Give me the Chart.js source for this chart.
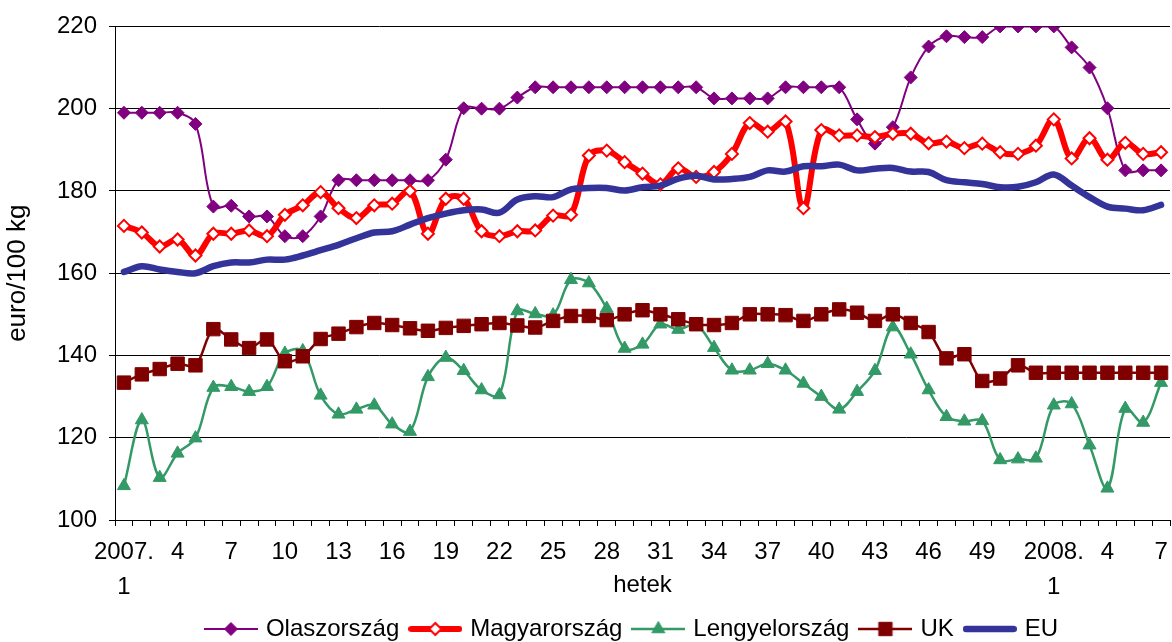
<!DOCTYPE html>
<html>
<head>
<meta charset="utf-8">
<script src="https://cdn.jsdelivr.net/npm/chart.js@4.4.1/dist/chart.umd.min.js"></script>
<style>
html,body{margin:0;padding:0;background:#fff;}
#wrap{width:1172px;height:642px;}
</style>
</head>
<body>
<div id="wrap"><canvas id="c" width="1172" height="642"></canvas></div>
<script>
const categories = [
  '2007. 1','2','3','4','5','6','7','8','9','10','11','12','13','14','15','16','17','18','19','20',
  '21','22','23','24','25','26','27','28','29','30','31','32','33','34','35','36','37','38','39','40',
  '41','42','43','44','45','46','47','48','49','50','51','52',
  '2008. 1','2','3','4','5','6','7'
];
const tickIndices = [0,3,6,9,12,15,18,21,24,27,30,33,36,39,42,45,48,52,55,58];

const olaszorszag = [199,199,199,199,196.3,176.2,176.4,173.8,173.8,169,169,173.8,182.6,182.6,182.6,182.6,182.6,182.6,187.6,200.1,
  200,200,202.7,205.2,205.2,205.2,205.2,205.2,205.2,205.2,205.2,205.2,205.2,202.5,202.5,202.5,202.5,205.2,205.2,205.2,
  205.2,197.4,191.5,195.5,207.6,215.1,217.6,217.4,217.4,220,220,220,220,214.9,210,200.1,185,185,185];
const magyarorszag = [171.5,169.9,166.5,168.2,164.3,169.6,169.6,170.4,169,174.2,176.5,179.7,175.8,173.4,176.5,176.9,180,169.6,178.1,178.1,
  170.2,169,170.2,170.4,174,174.2,188.6,189.8,187,184.2,181.6,185.5,183.4,184.6,189,196.5,194.4,196.9,175.8,194.8,
  193.5,193.5,193.1,193.9,193.9,191.6,192,190.4,191.5,189.4,189,191,197.4,187.9,192.8,187.6,191.7,189,189.4];
const lengyelorszag = [108.3,124.3,110.3,116.2,119.9,132.2,132.4,131.2,132.4,140.5,141.1,130.3,125.7,126.9,127.9,123.3,121.5,134.8,139.5,136.3,
  131.6,130.4,150.8,150.1,149.8,158.4,157.6,151.4,141.7,142.7,147.6,146.3,147.5,141.9,136.4,136.4,138,136.4,133.2,130,
  126.9,131.2,136.3,146.9,140.3,131.6,125.1,124,124.1,114.6,114.8,115,127.9,128.2,118.2,107.7,127.1,123.7,133.4];
const uk = [133.4,135.4,136.7,138,137.6,146.4,143.9,141.8,143.9,138.6,139.8,144,145.3,146.9,147.9,147.4,146.6,146,146.7,147.2,
  147.6,147.9,147.3,146.8,148.4,149.6,149.6,148.6,150,151,150,148.8,147.6,147.4,147.9,150,150,149.8,148.4,150,
  151.2,150.4,148.4,150,147.9,145.7,139.3,140.3,133.8,134.4,137.6,135.8,135.8,135.8,135.8,135.8,135.8,135.8,135.8];
const eu = [160.3,161.7,160.9,160.3,160,161.7,162.6,162.6,163.3,163.3,164.3,165.6,166.9,168.5,169.9,170.2,171.8,173.4,174.5,175.3,
  175.5,174.7,177.9,178.7,178.5,180.4,180.7,180.7,180.1,180.9,181.3,183,183.7,182.8,182.9,183.4,185,184.7,186,186,
  186.4,185,185.4,185.6,184.7,184.6,182.6,182.1,181.7,180.9,181,182.1,184,181.3,178.5,176.2,175.7,175.3,176.6];

const yTicks = {min: 100, max: 220, step: 20};

const FONT = "'Liberation Sans', Arial, sans-serif";
Chart.defaults.font.family = FONT;
Chart.defaults.font.size = 24;
Chart.defaults.color = '#000';

const datasets = [
  {label:'Olaszország', data: olaszorszag, borderColor:'#800080', backgroundColor:'#800080', borderWidth:2,
   pointStyle:'rectRot', pointRadius:6.5, pointBackgroundColor:'#800080', pointBorderColor:'#800080', pointBorderWidth:1, order:5},
  {label:'Magyarország', data: magyarorszag, borderColor:'#ff0000', backgroundColor:'#ff0000', borderWidth:6,
   borderJoinStyle:'round', pointStyle:'rectRot', pointRadius:6, pointBackgroundColor:'#ffffff', pointBorderColor:'#ff0000', pointBorderWidth:2, order:4},
  {label:'Lengyelország', data: lengyelorszag, borderColor:'#339966', backgroundColor:'#339966', borderWidth:2.5,
   pointStyle:'triangle', pointRadius:7.5, pointBackgroundColor:'#339966', pointBorderColor:'#339966', pointBorderWidth:1, order:3},
  {label:'UK', data: uk, borderColor:'#800000', backgroundColor:'#800000', borderWidth:2.5,
   pointStyle:'rect', pointRadius:9.5, pointBackgroundColor:'#800000', pointBorderColor:'#800000', pointBorderWidth:1, order:2},
  {label:'EU', data: eu, borderColor:'#333399', backgroundColor:'#333399', borderWidth:6.5,
   borderJoinStyle:'round', borderCapStyle:'round', pointRadius:0, order:1}
];

function swatch(ds) {
  const c = document.createElement('canvas');
  c.width = 54; c.height = 24;
  const g = c.getContext('2d');
  g.strokeStyle = ds.borderColor;
  g.lineWidth = ds.borderWidth;
  g.lineCap = ds.borderWidth > 4 ? 'round' : 'butt';
  g.beginPath();
  const inset = ds.borderWidth > 4 ? ds.borderWidth / 2 : 0;
  g.moveTo(inset, 12); g.lineTo(54 - inset, 12); g.stroke();
  if (ds.pointRadius > 0) {
    g.fillStyle = ds.pointBackgroundColor;
    g.strokeStyle = ds.pointBorderColor;
    g.lineWidth = ds.pointBorderWidth;
    Chart.helpers.drawPoint(g, {pointStyle: ds.pointStyle, radius: ds.pointRadius, rotation: 0, borderWidth: ds.pointBorderWidth}, 27, 12);
  }
  return c;
}

const legendShift = {
  id: 'legendShift',
  afterLayout(chart) {
    const l = chart.legend;
    if (!l) return;
    l.left += 48; l.right += 48; l.top += 9; l.bottom += 9;
  }
};

new Chart(document.getElementById('c'), {
  type: 'line',
  data: { labels: categories, datasets },
  plugins: [legendShift],
  options: {
    responsive: false,
    animation: false,
    events: [],
    devicePixelRatio: 1,
    layout: { autoPadding: false, padding: { top: 26, right: 2, bottom: 0, left: 0 } },
    elements: { line: { tension: 0.35, fill: false } },
    plugins: {
      tooltip: { enabled: false },
      legend: {
        position: 'bottom',
        labels: {
          usePointStyle: true,
          pointStyleWidth: 46,
          padding: 13,
          color: '#000',
          font: { size: 24, family: FONT },
          generateLabels(chart) {
            return chart.data.datasets.map((ds, i) => ({
              text: ds.label,
              fillStyle: ds.backgroundColor,
              strokeStyle: ds.borderColor,
              lineWidth: 0,
              pointStyle: swatch(ds),
              hidden: false,
              datasetIndex: i,
              fontColor: '#000'
            }));
          }
        }
      }
    },
    scales: {
      x: {
        type: 'category',
        offset: true,
        grid: { offset: true, drawOnChartArea: false, drawTicks: true, tickLength: 6, color: '#000', lineWidth: 1 },
        border: { color: '#000', width: 1 },
        ticks: {
          autoSkip: false, maxRotation: 0, minRotation: 0, padding: 9, color: '#000',
          font: { size: 24, lineHeight: 1.46 },
          callback(value, index) {
            if (!tickIndices.includes(index)) return '';
            const s = categories[index];
            return s.indexOf(' ') > 0 ? s.split(' ') : s;
          }
        },
        title: { display: true, text: 'hetek', color: '#000', font: { size: 24 }, padding: { top: 0, bottom: -4.4 } },
        afterFit(s) { s.height = 75; s.paddingRight = 0; s.paddingLeft = 0; }
      },
      y: {
        min: yTicks.min, max: yTicks.max,
        grid: { color: '#000', lineWidth: 1, drawTicks: true, tickLength: 6 },
        border: { color: '#000', width: 1 },
        ticks: { stepSize: yTicks.step, padding: 12, color: '#000', font: { size: 24 } },
        title: { display: true, text: 'euro/100 kg', color: '#000', font: { size: 26 }, padding: { top: 2.4, bottom: 0 } },
        afterFit(s) { s.width = 115; }
      }
    }
  }
});
</script>
</body>
</html>
